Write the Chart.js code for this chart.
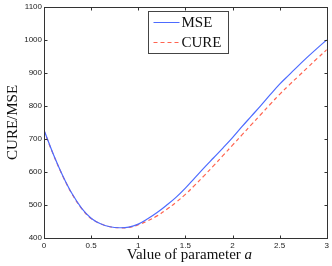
<!DOCTYPE html>
<html>
<head>
<meta charset="utf-8">
<script src="https://cdn.jsdelivr.net/npm/chart.js@4"></script>
<style>
  html, body { margin: 0; padding: 0; background: #fff; }
  #wrap { width: 332px; height: 266px; }
</style>
</head>
<body>
<div id="wrap"><canvas id="chart" width="332" height="266"></canvas></div>
<script>
// parameter a (x axis)
const aValues = [0, 0.1, 0.2, 0.3, 0.4, 0.5, 0.6, 0.7, 0.8, 0.9, 1.0,
                 1.1, 1.2, 1.3, 1.4, 1.5, 1.6, 1.7, 1.8, 1.9, 2.0,
                 2.1, 2.2, 2.3, 2.4, 2.5, 2.6, 2.7, 2.8, 2.9, 3.0];

const mseValues = [727, 653, 588, 533, 490, 460, 443, 434, 431, 433, 442,
                   458, 477, 499, 523, 551, 582, 613, 643, 673, 704,
                   737, 769, 801, 834, 866, 894, 922, 949, 975, 1000];

const cureValues = [725, 652, 587, 532, 489, 459, 443, 434, 431, 432, 440,
                    452, 467, 486, 508, 532, 560, 589, 619, 650, 681,
                    712, 743, 774, 805, 835, 863, 890, 917, 944, 970];

const xTicks = [0, 0.5, 1, 1.5, 2, 2.5, 3];
const yTicks = [400, 500, 600, 700, 800, 900, 1000, 1100];

const seriesNames = ['MSE', 'CURE'];
const seriesColors = ['#4d6bff', '#ff6450'];

const toPoints = vals => vals.map((v, i) => ({ x: aValues[i], y: v }));

const serif = '"Liberation Serif", "DejaVu Serif", serif';

// box, inward ticks, legend and axis titles (MATLAB style)
const framePlugin = {
    id: 'frame',
    afterDraw(chart) {
        const { ctx, chartArea: a, scales: { x, y } } = chart;
        ctx.save();
        ctx.strokeStyle = '#333';
        ctx.lineWidth = 1;
        const L = Math.round(a.left) + 0.5, R = Math.round(a.right) + 0.5;
        const T = Math.round(a.top) + 0.5, B = Math.round(a.bottom) + 0.5;
        ctx.strokeRect(L, T, R - L, B - T);

        ctx.beginPath();
        xTicks.forEach(v => {
            const px = Math.round(x.getPixelForValue(v)) + 0.5;
            ctx.moveTo(px, B); ctx.lineTo(px, B - 3);
            ctx.moveTo(px, T); ctx.lineTo(px, T + 3);
        });
        yTicks.forEach(v => {
            const py = Math.round(y.getPixelForValue(v)) + 0.5;
            ctx.moveTo(L, py); ctx.lineTo(L + 3, py);
            ctx.moveTo(R, py); ctx.lineTo(R - 3, py);
        });
        ctx.stroke();

        // legend
        const lx = L + 104, ly = T + 4, lw = 80, lh = 42;
        ctx.fillStyle = '#fff';
        ctx.fillRect(lx, ly, lw, lh);
        ctx.strokeStyle = '#444';
        ctx.strokeRect(lx, ly, lw, lh);
        ctx.font = '15px ' + serif;
        ctx.textBaseline = 'middle';
        ctx.textAlign = 'left';
        seriesNames.forEach((name, i) => {
            const yy = ly + 11 + i * 20;
            ctx.strokeStyle = seriesColors[i];
            ctx.setLineDash(i === 1 ? [4, 3] : []);
            ctx.beginPath();
            ctx.moveTo(lx + 5, yy); ctx.lineTo(lx + 31, yy);
            ctx.stroke();
            ctx.setLineDash([]);
            ctx.fillStyle = '#111';
            ctx.fillText(name, lx + 33, yy + 1);
        });

        // x title with italic a
        ctx.fillStyle = '#111';
        const t1 = 'Value of parameter ';
        ctx.font = '15px ' + serif;
        const w1 = ctx.measureText(t1).width;
        ctx.font = 'italic 15px ' + serif;
        const w2 = ctx.measureText('a').width;
        let sx = (a.left + a.right) / 2 + 4 - (w1 + w2) / 2;
        ctx.font = '15px ' + serif;
        ctx.fillText(t1, sx, 255);
        ctx.font = 'italic 15px ' + serif;
        ctx.fillText('a', sx + w1, 255);

        // y title
        ctx.translate(12, (a.top + a.bottom) / 2);
        ctx.rotate(-Math.PI / 2);
        ctx.textAlign = 'center';
        ctx.font = '15px ' + serif;
        ctx.fillText('CURE/MSE', 0, 1);
        ctx.restore();
    }
};

new Chart(document.getElementById('chart'), {
    type: 'scatter',
    data: {
        datasets: [
            {
                label: seriesNames[0],
                data: toPoints(mseValues),
                showLine: true,
                borderColor: seriesColors[0],
                borderWidth: 1.2,
                pointRadius: 0,
                tension: 0.4,
                order: 0
            },
            {
                label: seriesNames[1],
                data: toPoints(cureValues),
                showLine: true,
                borderColor: seriesColors[1],
                borderWidth: 1.2,
                borderDash: [4, 3],
                pointRadius: 0,
                tension: 0.4,
                order: 1
            }
        ]
    },
    options: {
        responsive: false,
        animation: false,
        layout: { padding: { left: 0, right: 5, top: 5, bottom: 0 } },
        plugins: { legend: { display: false }, tooltip: { enabled: false } },
        scales: {
            x: {
                type: 'linear',
                min: 0, max: 3,
                afterBuildTicks: s => { s.ticks = xTicks.map(v => ({ value: v })); },
                afterFit: s => { s.height = 28; },
                grid: { display: false, drawTicks: false },
                border: { display: false },
                ticks: {
                    color: '#222', font: { family: 'Liberation Sans', size: 8 }, padding: 3, maxRotation: 0,
                    callback: v => String(v)
                }
            },
            y: {
                type: 'linear',
                min: 400, max: 1100,
                afterBuildTicks: s => { s.ticks = yTicks.map(v => ({ value: v })); },
                afterFit: s => { s.width = 44; },
                grid: { display: false, drawTicks: false },
                border: { display: false },
                ticks: {
                    color: '#222', font: { family: 'Liberation Sans', size: 8 }, padding: 2,
                    callback: v => String(v)
                }
            }
        }
    },
    plugins: [framePlugin]
});
</script>
</body>
</html>
